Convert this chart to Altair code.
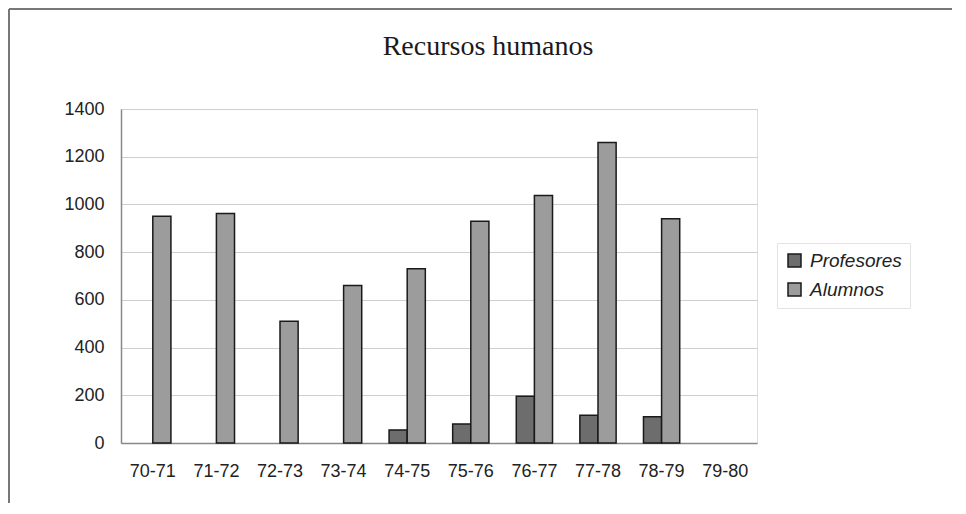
import altair as alt
import pandas as pd

titulo = "Recursos humanos"
categorias = ["70-71", "71-72", "72-73", "73-74", "74-75", "75-76", "76-77", "77-78", "78-79", "79-80"]
profesores = [None, None, None, None, 55, 80, 196, 116, 110, None]
alumnos = [950, 962, 510, 660, 730, 930, 1037, 1260, 940, None]
series = ["Profesores", "Alumnos"]
colores = ["#6d6d6d", "#9c9c9c"]

rows = []
for c, p, a in zip(categorias, profesores, alumnos):
    rows.append({"cat": c, "serie": "Profesores", "valor": p})
    rows.append({"cat": c, "serie": "Alumnos", "valor": a})
df = pd.DataFrame(rows)

bars = alt.Chart(df).mark_bar(stroke="#1a1a1a", strokeWidth=1.5).encode(
    x=alt.X("cat:N",
            scale=alt.Scale(domain=categorias, paddingInner=0.43, paddingOuter=0.215),
            axis=alt.Axis(title=None, labelAngle=0, labelFont="Liberation Sans", labelFontSize=18,
                          labelColor="#222222", labelPadding=19, ticks=False, grid=False,
                          domainColor="#888888", domainWidth=1.5)),
    xOffset=alt.XOffset("serie:N", scale=alt.Scale(domain=series, paddingInner=0, paddingOuter=0)),
    y=alt.Y("valor:Q",
            scale=alt.Scale(domain=[0, 1400]),
            axis=alt.Axis(title=None, values=list(range(0, 1401, 200)), format="d",
                          labelFont="Liberation Sans",
                          labelFontSize=18, labelColor="#222222", labelPadding=17, ticks=False,
                          grid=True, gridColor="#cfcfcf", domainColor="#888888", domainWidth=1.5)),
    color=alt.Color("serie:N", scale=alt.Scale(domain=series, range=colores),
                    legend=alt.Legend(title=None, orient="none", legendX=656, legendY=134,
                                      symbolType="square", symbolSize=169,
                                      symbolStrokeColor="#1a1a1a", symbolStrokeWidth=1.5,
                                      labelFont="Liberation Sans", labelFontStyle="italic",
                                      labelFontSize=19, labelColor="#222222",
                                      strokeColor="#e4e4e4", fillColor="#ffffff",
                                      padding=8, rowPadding=9, labelOffset=6)),
)

one = pd.DataFrame({"t": [titulo]})
title_text = alt.Chart(one).mark_text(font="Liberation Serif", fontSize=28, color="#1a1a1a",
                                      baseline="alphabetic", align="center", clip=False).encode(
    text="t:N", x=alt.value(367), y=alt.value(-54))
top_line = alt.Chart(one).mark_rule(color="#777777", strokeWidth=2, clip=False).encode(
    x=alt.value(-112), x2=alt.value(840), y=alt.value(-100))
left_line = alt.Chart(one).mark_rule(color="#777777", strokeWidth=2, clip=False).encode(
    x=alt.value(-112), y=alt.value(-100), y2=alt.value(400))

chart = alt.layer(bars, title_text, top_line, left_line).properties(
    width=636, height=334,
    padding={"left": 113, "top": 101, "right": 195, "bottom": 60},
    autosize=alt.AutoSizeParams(type="none"),
).configure_view(fill="#f6f6f6", stroke=None).configure(background="#ffffff")

chart.save("out.html", embed_options={"renderer": "svg", "actions": False})
